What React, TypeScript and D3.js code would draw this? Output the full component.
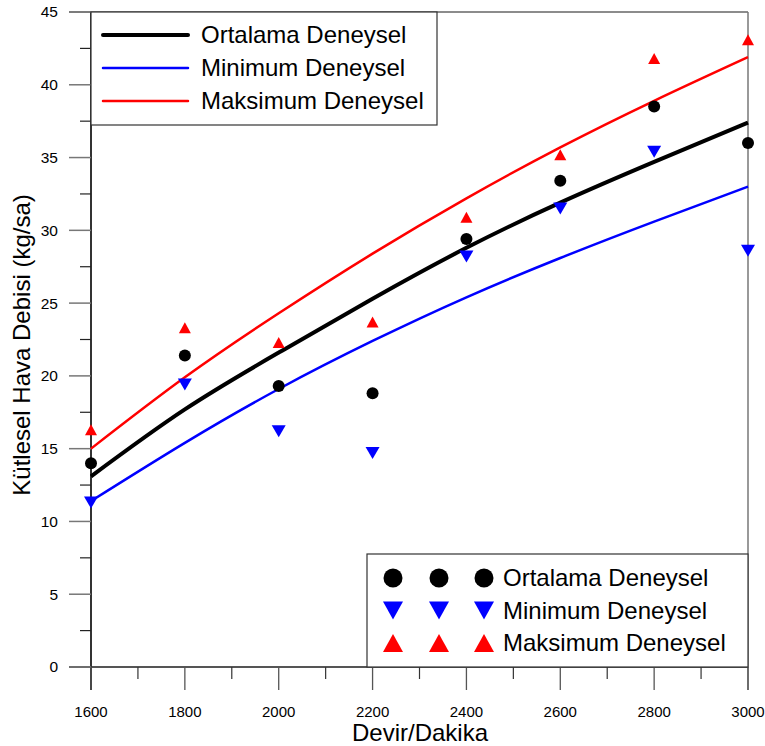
import React from 'react';
import * as d3 from 'd3';

// rpm values and readings (kg/sa)
const devir = [1600, 1800, 2000, 2200, 2400, 2600, 2800, 3000];
const ortalamaEgri = [13.1, 17.7, 21.6, 25.3, 28.8, 31.9, 34.7, 37.4];
const minimumEgri = [11.4, 15.4, 19.1, 22.4, 25.4, 28.1, 30.6, 33.0];
const maksimumEgri = [15.0, 19.9, 24.3, 28.4, 32.2, 35.7, 38.9, 41.9];
const ortalamaNokta = [14.0, 21.4, 19.3, 18.8, 29.4, 33.4, 38.5, 36.0];
const minimumNokta = [11.3, 19.4, 16.2, 14.7, 28.2, 31.5, 35.4, 28.6];
const maksimumNokta = [16.3, 23.3, 22.3, 23.7, 30.9, 35.2, 41.8, 43.1];
const xTicks = [1600, 1800, 2000, 2200, 2400, 2600, 2800, 3000];
const yTicks = [0, 5, 10, 15, 20, 25, 30, 35, 40, 45];
const lineLegend = ['Ortalama Deneysel', 'Minimum Deneysel', 'Maksimum Deneysel'];

const FONT = 'Liberation Sans, Arial, sans-serif';

const triUp = (x: number, y: number, w: number, h: number) =>
  `M${x - w / 2},${y + h / 2}L${x + w / 2},${y + h / 2}L${x},${y - h / 2}Z`;
const triDown = (x: number, y: number, w: number, h: number) =>
  `M${x - w / 2},${y - h / 2}L${x + w / 2},${y - h / 2}L${x},${y + h / 2}Z`;

export default function App() {
  const x = d3.scaleLinear().domain([1600, 3000]).range([91, 748]);
  const y = d3.scaleLinear().domain([0, 45]).range([667, 12]);
  const minorX = d3.range(1700, 3000, 200);
  const minorY = d3.range(2.5, 45, 5);

  const line = d3.line<number>()
    .x((_, i) => x(devir[i]))
    .y(d => y(d))
    .curve(d3.curveNatural);

  const curves = [
    { data: ortalamaEgri, color: '#000', w: 4 },
    { data: minimumEgri, color: '#0000ff', w: 2.5 },
    { data: maksimumEgri, color: '#ff0000', w: 2.5 },
  ];

  return (
    <svg width={765} height={746} style={{ position: 'absolute', left: 0, top: 0, background: '#fff' }}
      fontFamily={FONT}>
      {/* frame */}
      <line x1={69} x2={748} y1={12} y2={12} stroke="#666" strokeWidth={1.5} />
      <line x1={748} x2={748} y1={12} y2={690} stroke="#777" strokeWidth={1.5} />
      <line x1={69} x2={748} y1={667} y2={667} stroke="#555" strokeWidth={2} />
      <line x1={91} x2={91} y1={12} y2={690} stroke="#333" strokeWidth={2} />

      {/* y axis ticks */}
      {yTicks.map(t => (
        <g key={'y' + t}>
          <line x1={69} x2={91} y1={y(t)} y2={y(t)} stroke="#777" strokeWidth={1.5} />
          <text x={58} y={y(t)} dy="0.35em" textAnchor="end" fontSize={15.5}>{t}</text>
        </g>
      ))}
      {minorY.map(t => (
        <line key={'my' + t} x1={80} x2={91} y1={y(t)} y2={y(t)} stroke="#222" strokeWidth={1.2} />
      ))}

      {/* x axis ticks */}
      {xTicks.map(t => (
        <g key={'x' + t}>
          <line x1={x(t)} x2={x(t)} y1={667} y2={690} stroke="#555" strokeWidth={1.3} />
          <text x={x(t)} y={717} textAnchor="middle" fontSize={15}>{t}</text>
        </g>
      ))}
      {minorX.map(t => (
        <line key={'mx' + t} x1={x(t)} x2={x(t)} y1={667} y2={679} stroke="#333" strokeWidth={1.2} />
      ))}

      <text x={420} y={741} textAnchor="middle" fontSize={24}>Devir/Dakika</text>
      <text transform="translate(30,345) rotate(-90)" textAnchor="middle" fontSize={24}>
        Kütlesel Hava Debisi (kg/sa)
      </text>

      {/* fitted curves */}
      {curves.map((c, i) => (
        <path key={'c' + i} d={line(c.data) || ''} fill="none" stroke={c.color} strokeWidth={c.w} />
      ))}

      {/* measured points */}
      {ortalamaNokta.map((v, i) => (
        <circle key={'o' + i} cx={x(devir[i])} cy={y(v)} r={6} fill="#000" />
      ))}
      {minimumNokta.map((v, i) => (
        <path key={'n' + i} d={triDown(x(devir[i]), y(v), 14, 12)} fill="#0000ff" />
      ))}
      {maksimumNokta.map((v, i) => (
        <path key={'m' + i} d={triUp(x(devir[i]), y(v), 12, 11)} fill="#ff0000" />
      ))}

      {/* line legend */}
      <rect x={91} y={12} width={346} height={113} fill="#fff" stroke="#333" strokeWidth={1.2} />
      {lineLegend.map((name, i) => (
        <g key={'l' + i}>
          <line x1={103} x2={188} y1={35 + i * 33} y2={35 + i * 33}
            stroke={curves[i].color} strokeWidth={curves[i].w} strokeLinecap="round" />
          <text x={201} y={35 + i * 33} dy="0.35em" fontSize={24}>{name}</text>
        </g>
      ))}

      {/* symbol legend */}
      <rect x={367} y={554} width={381} height={113} fill="#fff" stroke="#333" strokeWidth={1.2} />
      {lineLegend.map((name, i) => {
        const ly = 578 + i * 32.5;
        return (
          <g key={'s' + i}>
            {[393, 439, 484].map(sx =>
              i === 0 ? <circle key={sx} cx={sx} cy={ly} r={9.5} fill="#000" />
                : i === 1 ? <path key={sx} d={triDown(sx, ly, 20, 18)} fill="#0000ff" />
                  : <path key={sx} d={triUp(sx, ly, 20, 18)} fill="#ff0000" />
            )}
            <text x={503} y={ly} dy="0.35em" fontSize={24}>{name}</text>
          </g>
        );
      })}
    </svg>
  );
}
